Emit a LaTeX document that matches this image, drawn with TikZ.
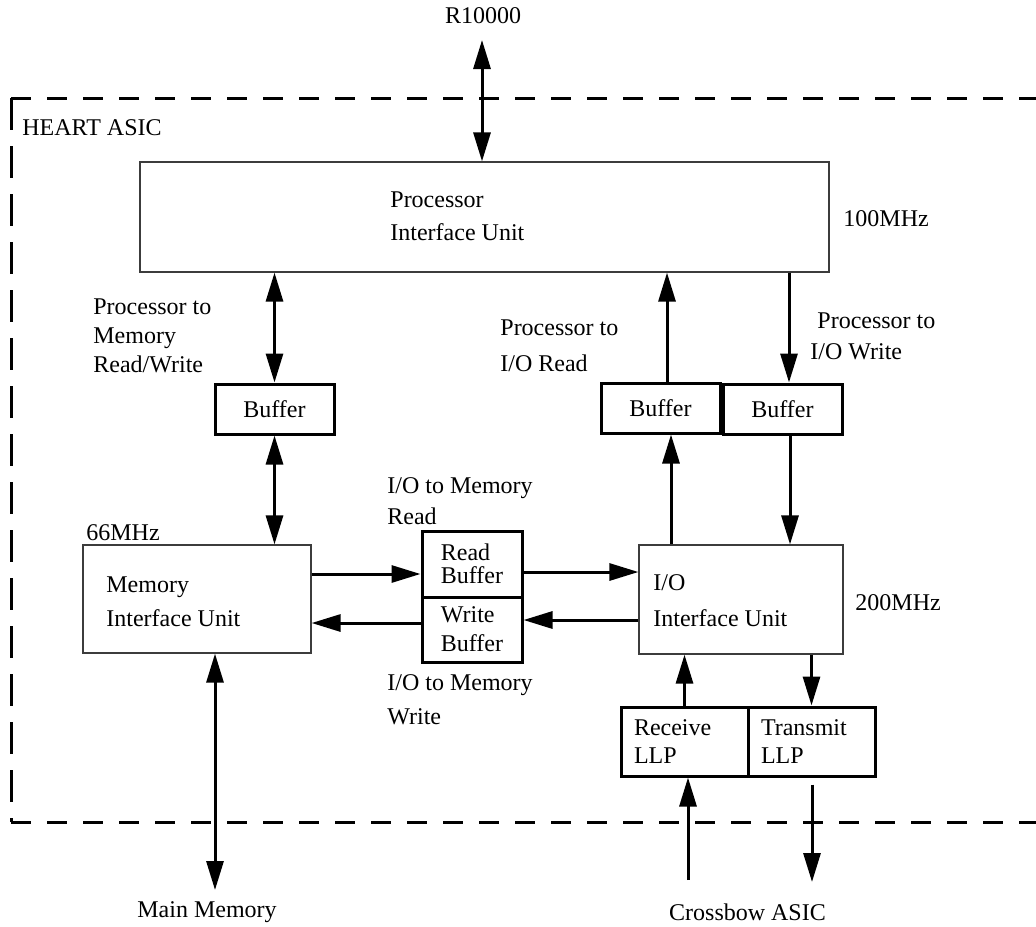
\documentclass[tikz,border=0pt]{standalone}
\usepackage{fontspec}
\setmainfont{Liberation Serif}
\usetikzlibrary{arrows.meta, positioning, calc}
\definecolor{framegray}{RGB}{60,60,60}
\tikzset{
  txt/.style    = {font=\fontsize{12pt}{14.5pt}\selectfont, align=left, inner sep=0pt},
  unit/.style   = {draw=framegray, line width=0.6pt, inner sep=0pt},
  buffer/.style = {txt, draw=black, line width=1.5pt, align=left,
                   minimum width=59.5pt, minimum height=25pt},
  llp/.style    = {buffer, minimum width=63.5pt, minimum height=34.5pt,
                   text width=50.5pt, inner xsep=6.5pt},
  arr/.style    = {-{Triangle[length=14.5pt,width=8.5pt]}, line width=1.5pt},
  biarr/.style  = {{Triangle[length=14.5pt,width=8.5pt]}-{Triangle[length=14.5pt,width=8.5pt]}, line width=1.5pt},
  asich/.style  = {line width=1.5pt, dash pattern=on 10pt off 8pt},
  asicv/.style  = {line width=1.5pt, dash pattern=on 16pt off 8pt},
}

\begin{document}
\begin{tikzpicture}[x=0.5pt, y=-0.5pt]
  \useasboundingbox (0,0) rectangle (1036,926);

  % ASIC boundary
  \draw[asich] (11,98) -- (1040,98);
  \draw[asicv] (11,98) -- (11,822);
  \draw[asich] (11,822) -- (1040,822);
  \node[txt, anchor=west] (heart) at (22,128) {HEART ASIC};

  % Interface units
  \node[unit, minimum width=344.5pt, minimum height=55pt] (piu) at (484.5,217) {};
  \node[unit, minimum width=114pt, minimum height=54pt]   (miu) at (197,599) {};
  \node[unit, minimum width=102pt, minimum height=54.5pt] (iou) at (741,599.5) {};
  \node[txt, anchor=west] (piutxt) at (390,216)   {Processor\\[2pt]Interface Unit};
  \node[txt, anchor=west] (miutxt) at (106,602)   {Memory\\[2.5pt]Interface Unit};
  \node[txt, anchor=west] (ioutxt) at (653,601)   {I/O\\[3.5pt]Interface Unit};
  \node[txt, anchor=west] (piuclk) at (843,219)   {100MHz};
  \node[txt, anchor=west] (miuclk) at (86,533)    {66MHz};
  \node[txt, anchor=west] (iouclk) at (855,603)   {200MHz};

  % Buffers
  \node[buffer] (buf1) at (274.5,409) {Buffer};
  \node[buffer] (buf2) at (660.5,408) {Buffer};
  \node[buffer] (buf3) at (782.5,409) {Buffer};
  \node[buffer, minimum width=50pt, minimum height=33pt]   (rdbuf) at (472,564)   {Read\\[-3pt]Buffer};
  \node[buffer, minimum width=50pt, minimum height=32.5pt] (wrbuf) at (472,629.5) {Write\\Buffer};
  \node[llp] (rx) at (684.5,741.5) {Receive\\[-0.5pt]LLP};
  \node[llp] (tx) at (811.5,741.5) {Transmit\\[-0.5pt]LLP};

  % Path labels
  \node[txt, anchor=west] (pmlbl)  at (93,336)  {Processor to\\Memory\\Read/Write};
  \node[txt, anchor=west] (piorl)  at (500,346) {Processor to\\[3.5pt]I/O Read};
  \node[txt, anchor=west] (piowl)  at (810,336) {\hspace*{3.5pt}Processor to\\[1pt]I/O Write};
  \node[txt, anchor=west] (iomrl)  at (387,501) {I/O to Memory\\[1pt]Read};
  \node[txt, anchor=west] (iomwl)  at (387,700) {I/O to Memory\\[2.5pt]Write};

  % Outside parts
  \node[txt] (cpu)  at (483,16)    {R10000};
  \node[txt] (mmem) at (207,912)   {Main Memory};
  \node[txt] (xbow) at (747.5,912) {Crossbow ASIC};
  \coordinate (cpuend)  at (482,40);
  \coordinate (mmemend) at (215,890);
  \coordinate (xin)     at (688,880);
  \coordinate (xout)    at (812,882);

  % Arrow end points off the box centres
  \coordinate (rdup)  at ([xshift=3.25pt]buf2.north);
  \coordinate (rdlo)  at ([xshift=5.25pt]buf2.south);
  \coordinate (wrup)  at ([xshift=3.25pt]buf3.north);
  \coordinate (wrlo)  at ([xshift=3.75pt]buf3.south);
  \coordinate (rdin)  at ([yshift=-5pt]rdbuf.west);
  \coordinate (rdout) at ([yshift=-4pt]rdbuf.east);
  \coordinate (wrin)  at ([yshift=4.75pt]wrbuf.east);
  \coordinate (wrout) at ([yshift=3.25pt]wrbuf.west);

  % Connections
  \draw[biarr] (cpuend) -- (cpuend |- piu.north);
  \draw[biarr] (buf1.north) -- (buf1.north |- piu.south);
  \draw[biarr] (buf1.south) -- (buf1.south |- miu.north);
  \draw[arr] (rdup) -- (rdup |- piu.south);
  \draw[arr] (rdlo |- iou.north) -- (rdlo);
  \draw[arr] (wrup |- piu.south) -- (wrup);
  \draw[arr] (wrlo) -- (wrlo |- iou.north);
  \draw[arr] (rdin -| miu.east) -- (rdin);
  \draw[arr] (rdout) -- (rdout -| iou.west);
  \draw[arr] (wrin -| iou.west) -- (wrin);
  \draw[arr] (wrout) -- (wrout -| miu.east);
  \draw[arr] (rx.north) -- (rx.north |- iou.south);
  \draw[arr] (tx.north |- iou.south) -- (tx.north);
  \draw[biarr] (mmemend |- miu.south) -- (mmemend);
  \draw[arr] (xin) -- (xin |- rx.south);
  \draw[arr, shorten <=3.5pt] (xout |- tx.south) -- (xout);
\end{tikzpicture}
\end{document}
